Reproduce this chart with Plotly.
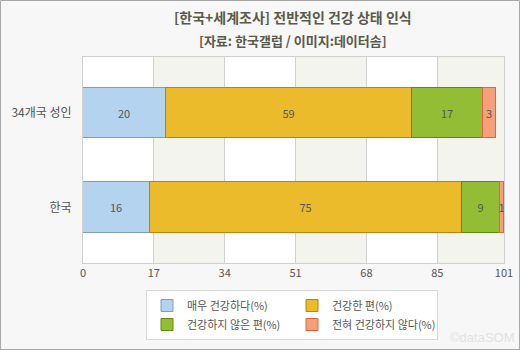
import plotly.graph_objects as go

categories = ["한국", "34개국 성인"]
series_names = ["매우 건강하다(%)", "건강한 편(%)", "건강하지 않은 편(%)", "전혀 건강하지 않다(%)"]
very_healthy = [16, 20]
healthy = [75, 59]
not_healthy = [9, 17]
not_at_all = [1, 3]
tick_vals = [0, 17, 34, 51, 68, 85, 101]
title_1 = "[한국+세계조사] 전반적인 건강 상태 인식"
title_2 = "[자료: 한국갤럽 / 이미지:데이터솜]"

fills = ["#b3d3ef", "#ecbb2c", "#93bd35", "#f5a07a"]
edges = ["#7e9fbb", "#b4870a", "#5f8c08", "#d9683c"]
values = [very_healthy, healthy, not_healthy, not_at_all]

W, H = 520, 350
ml, mr, mt, mb = 83, 16, 57, 87
pw = W - ml - mr
ph = H - mt - mb

fig = go.Figure()
for name, vals, fc, ec in zip(series_names, values, fills, edges):
    fig.add_trace(go.Bar(
        y=categories, x=vals, name=name, orientation="h",
        marker=dict(color=fc, line=dict(color=ec, width=1)),
        text=[str(v) for v in vals], textposition="inside",
        insidetextanchor="middle", constraintext="none",
        textfont=dict(color="#555555", size=11, family="Noto Sans CJK KR"),
        width=0.53, cliponaxis=False,
    ))

shapes = []
for i in range(len(tick_vals) - 1):
    if i % 2 == 1:
        shapes.append(dict(type="rect", xref="x", yref="paper",
                           x0=tick_vals[i], x1=tick_vals[i + 1], y0=0, y1=1,
                           fillcolor="#f4f4ef", line=dict(width=0), layer="below"))
shapes.append(dict(type="rect", xref="paper", yref="paper",
                   x0=-(ml - 0.5) / pw, x1=1 + (mr - 0.5) / pw,
                   y0=-(mb - 0.5) / ph, y1=1 + (mt - 0.5) / ph,
                   line=dict(color="#a8a8a8", width=1), fillcolor="rgba(0,0,0,0)"))

fig.update_layout(
    width=W, height=H,
    margin=dict(l=ml, r=mr, t=mt, b=mb, autoexpand=False),
    paper_bgcolor="#f7f7f7", plot_bgcolor="#ffffff",
    barmode="stack", bargap=0,
    font=dict(family="Noto Sans CJK KR", size=11, color="#555555"),
    shapes=shapes,
    xaxis=dict(range=[0, 101], tickvals=tick_vals, ticktext=[str(t) for t in tick_vals],
               showgrid=True, gridcolor="#d0d0d0", gridwidth=1, zeroline=False,
               showline=True, linecolor="#d0d0d0", mirror=True,
               tickfont=dict(size=11, color="#555555"), ticks="", ticklen=0),
    yaxis=dict(range=[-0.587, 1.593], showgrid=False, zeroline=False,
               showline=True, linecolor="#d0d0d0", mirror=True,
               ticks="", ticklabelstandoff=8,
               tickfont=dict(size=12, color="#555555")),
    legend=dict(orientation="h", x=(146 - ml) / pw, xanchor="left",
                y=-(290 - mt - ph) / ph, yanchor="top",
                entrywidth=100, entrywidthmode="pixels",
                tracegroupgap=0, itemwidth=30,
                bgcolor="#ffffff", bordercolor="#d8d8d8", borderwidth=1,
                font=dict(size=11, color="#555555"), traceorder="normal"),
    annotations=[
        dict(text="<b>" + title_1 + "</b>", xref="paper", yref="paper",
             x=(293 - ml) / pw, y=1 + (mt - 17) / ph, xanchor="center", yanchor="middle",
             showarrow=False, font=dict(size=14, color="#5a5a48")),
        dict(text="<b>" + title_2 + "</b>", xref="paper", yref="paper",
             x=(293 - ml) / pw, y=1 + (mt - 40) / ph, xanchor="center", yanchor="middle",
             showarrow=False, font=dict(size=13, color="#5a5a48")),
        dict(text="©dataSOM", xref="paper", yref="paper",
             x=1 + (mr - 3) / pw, y=-(mb - 3) / ph, xanchor="right", yanchor="bottom",
             showarrow=False, font=dict(size=13, color="#e2e2e2", family="Arial")),
    ],
)

fig.write_html("out.html")
